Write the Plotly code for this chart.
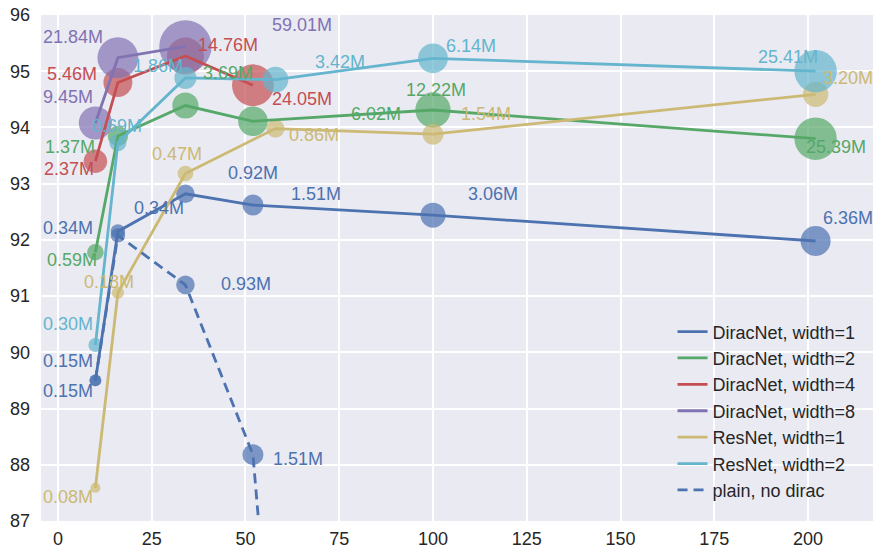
import plotly.graph_objects as go

# ---------------- data ----------------
dirac1_x = [10, 16, 34, 52, 100, 202]
dirac1_y = [89.50, 92.15, 92.82, 92.62, 92.44, 91.98]
dirac1_p = [0.15, 0.34, 0.92, 1.51, 3.06, 6.36]
dirac1_lx = [2.67, 26.93, 52.0, 68.8, 116.0, 210.7]
dirac1_ly = [89.85, 92.57, 93.19, 92.82, 92.82, 92.39]

dirac2_x = [10, 16, 34, 52, 100, 202]
dirac2_y = [91.78, 93.85, 94.39, 94.11, 94.31, 93.80]
dirac2_p = [0.59, 1.37, 3.69, 6.02, 12.22, 25.39]
dirac2_lx = [3.73, 3.2, 45.33, 84.8, 100.8, 207.5]
dirac2_ly = [91.64, 93.65, 94.96, 94.24, 94.66, 93.65]

dirac4_x = [10, 16, 34, 52]
dirac4_y = [93.40, 94.80, 95.27, 94.75]
dirac4_p = [2.37, 5.46, 14.76, 24.05]
dirac4_lx = [2.93, 3.73, 45.33, 65.07]
dirac4_ly = [93.26, 94.95, 95.46, 94.50]

dirac8_x = [10, 16, 34]
dirac8_y = [94.08, 95.24, 95.44]
dirac8_p = [9.45, 21.84, 59.01]
dirac8_lx = [2.67, 4.0, 65.07]
dirac8_ly = [94.54, 95.60, 95.83]

res1_x = [10, 16, 34, 58, 100, 202]
res1_y = [87.59, 91.06, 93.18, 93.98, 93.88, 94.59]
res1_p = [0.08, 0.18, 0.47, 0.86, 1.54, 3.20]
res1_lx = [2.67, 13.6, 31.73, 68.27, 114.13, 210.67]
res1_ly = [87.42, 91.25, 93.53, 93.86, 94.24, 94.88]

res2_x = [10, 16, 34, 58, 100, 202]
res2_y = [90.13, 93.73, 94.88, 94.85, 95.23, 95.00]
res2_p = [0.30, 0.69, 1.86, 3.42, 6.14, 25.41]
res2_lx = [2.67, 15.87, 26.67, 75.2, 110.13, 194.67]
res2_ly = [90.51, 94.02, 95.09, 95.16, 95.44, 95.25]

plain_x = [10, 16, 34, 52, 100]
plain_y = [89.50, 92.08, 91.20, 88.18, 50.4]
plain_p = [0.15, 0.34, 0.93, 1.51, 3.06]
plain_lx = [2.67, 2.67, 50.13, 64.0]
plain_ly = [89.32, 92.21, 91.22, 88.11]

x_ticks = [0, 25, 50, 75, 100, 125, 150, 175, 200]
y_ticks = [87, 88, 89, 90, 91, 92, 93, 94, 95, 96]

# ---------------- styling ----------------
BLUE, GREEN, RED, PURPLE, YELLOW, CYAN = (
    "#4C72B0", "#55A868", "#C44E52", "#8172B2", "#CCB974", "#64B5CD")
FONT = "Liberation Sans, Arial, sans-serif"

series = [
    ("DiracNet, width=1", dirac1_x, dirac1_y, dirac1_p, dirac1_lx, dirac1_ly, BLUE, "solid"),
    ("DiracNet, width=2", dirac2_x, dirac2_y, dirac2_p, dirac2_lx, dirac2_ly, GREEN, "solid"),
    ("DiracNet, width=4", dirac4_x, dirac4_y, dirac4_p, dirac4_lx, dirac4_ly, RED, "solid"),
    ("DiracNet, width=8", dirac8_x, dirac8_y, dirac8_p, dirac8_lx, dirac8_ly, PURPLE, "solid"),
    ("ResNet, width=1", res1_x, res1_y, res1_p, res1_lx, res1_ly, YELLOW, "solid"),
    ("ResNet, width=2", res2_x, res2_y, res2_p, res2_lx, res2_ly, CYAN, "solid"),
    ("plain, no dirac", plain_x, plain_y, plain_p, plain_lx, plain_ly, BLUE, "10px,6px"),
]

fig = go.Figure()

# markers first (under lines)
for name, xs, ys, ps, lx, ly, col, dash in series:
    fig.add_trace(go.Scatter(
        x=xs, y=ys, mode="markers", showlegend=False, hoverinfo="skip",
        marker=dict(size=[18.9 * p ** 0.25 for p in ps], color=col,
                    opacity=0.7, line=dict(width=0)),
    ))

# lines
for name, xs, ys, ps, lx, ly, col, dash in series:
    fig.add_trace(go.Scatter(
        x=xs, y=ys, mode="lines", name=name,
        line=dict(color=col, width=2.8, dash=dash),
    ))

# labels
for name, xs, ys, ps, lx, ly, col, dash in series:
    for p, ax_, ay_ in zip(ps, lx, ly):
        fig.add_annotation(x=ax_, y=ay_, text=f"{p:.2f}M", showarrow=False,
                           xanchor="center", yanchor="middle",
                           font=dict(family=FONT, size=18, color=col))

fig.update_layout(
    width=875, height=550,
    margin=dict(l=41, r=2, t=15, b=29, autoexpand=False),
    paper_bgcolor="white", plot_bgcolor="#EAEAF2",
    font=dict(family=FONT, size=18, color="#262626"),
    showlegend=True,
    hovermode=False,
    legend=dict(x=0.985, y=0.025, xanchor="right", yanchor="bottom",
                bgcolor="rgba(0,0,0,0)", borderwidth=0,
                font=dict(family=FONT, size=18, color="#262626"),
                tracegroupgap=0, itemwidth=30),
)
fig.update_xaxes(range=[-4.5, 217.3], tickvals=x_ticks, showgrid=True,
                 gridcolor="white", gridwidth=1.5, zeroline=False,
                 showline=False, ticks="", ticklabelstandoff=5,
                 automargin=False)
fig.update_yaxes(range=[87, 96], tickvals=y_ticks, showgrid=True,
                 gridcolor="white", gridwidth=1.5, zeroline=False,
                 showline=False, ticks="", ticklabelstandoff=10,
                 automargin=False, ticklabeloverflow="allow")

# remove the page's default body margin so the figure fills the window exactly
fig.write_html(
    "out.html",
    config={"displayModeBar": False},
    post_script="document.body.style.margin='0';document.body.style.overflow='hidden';",
)
